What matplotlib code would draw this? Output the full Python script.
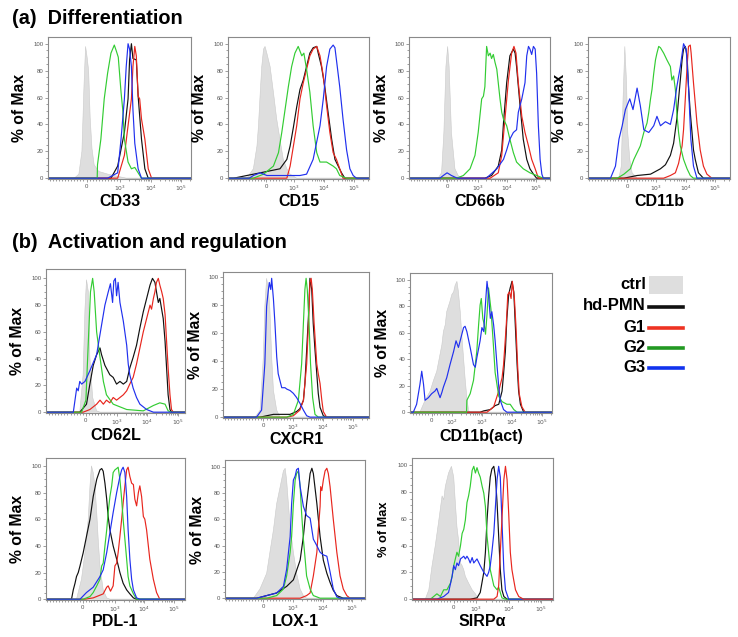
import matplotlib.pyplot as plt
from matplotlib.lines import Line2D
from matplotlib.patches import Rectangle
import numpy as np

plt.rcParams['font.family'] = ['Liberation Sans', 'DejaVu Sans']

# x: position on the biexponential display axis (10^n sits at n), y: % of max

# ---- (a) CD33
cd33_ctrl_x = [1.50, 1.65, 1.75, 1.82, 1.87, 1.92, 1.97, 2.02, 2.08, 2.15, 2.30, 2.60, 3.00, 3.20]
cd33_ctrl_y = [0, 3, 20, 70, 98, 90, 80, 45, 22, 10, 5, 3, 1, 0]
cd33_hd_x = [2.70, 2.92, 3.14, 3.26, 3.31, 3.37, 3.42, 3.53, 3.59, 3.70, 3.81, 3.92]
cd33_hd_y = [0, 9, 34, 59, 88, 100, 89, 88, 61, 29, 7, 0]
cd33_g1_x = [2.92, 3.14, 3.26, 3.37, 3.42, 3.48, 3.53, 3.59, 3.64, 3.70, 3.81, 3.92, 4.03]
cd33_g1_y = [0, 17, 39, 59, 83, 98, 91, 61, 59, 44, 29, 7, 0]
cd33_g2_x = [2.25, 2.26, 2.37, 2.48, 2.59, 2.70, 2.81, 2.87, 2.94, 3.03, 3.09, 3.14, 3.26, 3.37, 3.48, 3.59, 3.70]
cd33_g2_y = [0, 10, 29, 59, 78, 93, 99, 95, 90, 64, 50, 29, 12, 7, 8, 4, 0]
cd33_g3_x = [2.59, 2.92, 3.03, 3.14, 3.20, 3.26, 3.31, 3.37, 3.42, 3.48, 3.59, 3.70]
cd33_g3_y = [0, 4, 29, 59, 83, 100, 96, 83, 51, 26, 7, 0]

# ---- CD15
cd15_ctrl_x = [1.42, 1.64, 1.76, 1.81, 1.87, 1.92, 1.98, 2.03, 2.09, 2.20, 2.31, 2.42, 2.53, 2.64, 2.76, 2.87, 3.09]
cd15_ctrl_y = [0, 7, 24, 39, 64, 83, 96, 98, 93, 83, 64, 44, 29, 14, 7, 3, 0]
cd15_hd_x = [0.98, 1.42, 1.87, 2.31, 2.53, 2.76, 2.87, 2.98, 3.09, 3.20, 3.31, 3.42, 3.53, 3.64, 3.76, 3.81,
             3.92, 4.03, 4.14, 4.26, 4.37, 4.48, 4.59, 4.70]
cd15_hd_y = [0, 2, 4, 6, 7, 14, 24, 38, 53, 66, 73, 83, 93, 97, 98, 93, 83, 68, 49, 29, 14, 9, 4, 0]
cd15_g1_x = [2.76, 2.87, 2.98, 3.09, 3.20, 3.31, 3.42, 3.53, 3.64, 3.76, 3.87, 3.98, 4.09, 4.20, 4.31, 4.42, 4.53, 4.64]
cd15_g1_y = [0, 9, 24, 39, 59, 71, 81, 91, 96, 98, 91, 76, 54, 34, 19, 14, 7, 0]
cd15_g2_x = [1.64, 1.98, 2.31, 2.48, 2.59, 2.70, 2.81, 2.92, 3.03, 3.14, 3.26, 3.33, 3.42, 3.53, 3.64, 3.76,
             3.87, 4.09, 4.31, 4.42, 4.53, 4.76]
cd15_g2_y = [0, 3, 9, 19, 34, 51, 68, 83, 93, 98, 91, 93, 81, 64, 39, 19, 12, 12, 9, 7, 2, 0]
cd15_g3_x = [1.50, 1.64, 1.87, 2.09, 2.53, 3.20, 3.42, 3.64, 3.87, 3.98, 4.09, 4.20, 4.31, 4.37, 4.42, 4.53,
             4.64, 4.76, 4.87, 4.98, 5.09]
cd15_g3_y = [0, 2, 4, 2, 2, 2, 3, 14, 39, 59, 83, 96, 99, 97, 88, 68, 44, 21, 7, 2, 0]

# ---- CD66b
cd66b_ctrl_x = [1.64, 1.76, 1.84, 1.91, 1.97, 2.02, 2.10, 2.22, 2.33, 2.45]
cd66b_ctrl_y = [0, 4, 34, 83, 98, 83, 34, 7, 2, 0]
cd66b_hd_x = [3.25, 3.48, 3.71, 3.83, 3.89, 4.00, 4.11, 4.23, 4.29, 4.34, 4.46, 4.57, 4.69, 4.80, 4.92, 5.03]
cd66b_hd_y = [0, 2, 9, 21, 41, 71, 91, 96, 93, 83, 54, 29, 14, 7, 3, 0]
cd66b_g1_x = [3.43, 3.71, 3.83, 3.94, 4.06, 4.17, 4.25, 4.32, 4.40, 4.52, 4.63, 4.75, 4.86, 4.98, 5.09]
cd66b_g1_y = [0, 4, 17, 44, 73, 93, 98, 93, 71, 46, 34, 24, 14, 7, 0]
cd66b_g2_x = [2.28, 2.51, 2.74, 2.91, 3.02, 3.14, 3.20, 3.25, 3.31, 3.37, 3.43, 3.48, 3.54, 3.60, 3.66, 3.71,
              3.77, 3.83, 3.89, 4.00, 4.11, 4.23, 4.34, 4.57, 4.80, 5.03, 5.26]
cd66b_g2_y = [0, 2, 7, 17, 34, 59, 61, 68, 98, 91, 93, 89, 92, 86, 81, 71, 59, 49, 44, 39, 29, 19, 12, 7, 4, 2, 0]
cd66b_g3_x = [1.70, 1.82, 1.95, 2.10, 2.30, 3.30, 3.66, 3.89, 4.00, 4.11, 4.23, 4.34, 4.40, 4.52, 4.63, 4.69,
              4.75, 4.80, 4.86, 4.92, 4.98, 5.03, 5.09, 5.15, 5.21, 5.26]
cd66b_g3_y = [0, 2, 4, 2, 0, 0, 7, 14, 21, 29, 34, 36, 49, 59, 71, 91, 98, 96, 92, 98, 96, 78, 39, 14, 3, 0]

# ---- CD11b
cd11b_ctrl_x = [1.72, 1.80, 1.86, 1.92, 1.98, 2.02, 2.09, 2.17, 2.34]
cd11b_ctrl_y = [0, 9, 59, 98, 71, 34, 14, 4, 0]
cd11b_hd_x = [1.89, 2.34, 2.80, 3.14, 3.31, 3.48, 3.59, 3.70, 3.76, 3.82, 3.88, 3.93, 3.99, 4.05, 4.10, 4.16,
              4.22, 4.27, 4.33, 4.44, 4.61]
cd11b_hd_y = [0, 2, 3, 7, 10, 17, 26, 44, 59, 73, 88, 96, 98, 91, 68, 49, 34, 21, 14, 4, 0]
cd11b_g1_x = [3.25, 3.48, 3.65, 3.76, 3.88, 3.93, 3.99, 4.05, 4.10, 4.16, 4.19, 4.27, 4.39, 4.50, 4.61, 4.73, 4.90]
cd11b_g1_y = [0, 2, 4, 11, 24, 36, 59, 83, 98, 99, 93, 71, 41, 21, 9, 3, 0]
cd11b_g2_x = [1.66, 1.89, 2.11, 2.23, 2.34, 2.45, 2.57, 2.68, 2.74, 2.80, 2.85, 2.91, 2.97, 3.02, 3.08, 3.14,
              3.25, 3.36, 3.48, 3.53, 3.59, 3.65, 3.70, 3.76, 3.82, 3.93, 4.05, 4.16, 4.27]
cd11b_g2_y = [0, 3, 7, 14, 19, 24, 34, 41, 49, 59, 66, 78, 88, 93, 98, 97, 93, 88, 83, 73, 76, 66, 49, 34, 24,
              14, 7, 2, 0]
cd11b_g3_x = [1.43, 1.60, 1.72, 1.83, 1.94, 2.09, 2.20, 2.34, 2.45, 2.57, 2.74, 2.91, 3.02, 3.14, 3.31, 3.48,
              3.59, 3.70, 3.82, 3.93, 4.02, 4.10, 4.18, 4.27, 4.39]
cd11b_g3_y = [0, 9, 29, 39, 51, 59, 51, 67, 54, 36, 34, 39, 46, 39, 42, 40, 51, 68, 83, 100, 96, 68, 29, 9, 0]

# ---- (b) CD62L
cd62l_ctrl_x = [1.80, 1.91, 1.97, 2.02, 2.08, 2.13, 2.22, 2.35, 2.46]
cd62l_ctrl_y = [0, 28, 77, 99, 90, 41, 11, 1, 0]
cd62l_hd_x = [1.80, 2.02, 2.13, 2.24, 2.35, 2.46, 2.51, 2.62, 2.78, 2.89, 3.00, 3.11, 3.22, 3.33, 3.43, 3.54,
              3.65, 3.76, 3.87, 3.98, 4.09, 4.17, 4.25, 4.30, 4.36, 4.41, 4.52, 4.58, 4.63, 4.68, 4.74, 4.79]
cd62l_hd_y = [0, 6, 21, 35, 43, 48, 43, 35, 28, 26, 21, 23, 21, 23, 33, 41, 50, 63, 75, 85, 95, 100, 97, 90,
              82, 85, 70, 53, 33, 13, 2, 0]
cd62l_g1_x = [1.91, 2.13, 2.35, 2.46, 2.57, 2.67, 2.78, 2.89, 3.00, 3.11, 3.22, 3.33, 3.43, 3.54, 3.65, 3.76,
              3.87, 3.98, 4.09, 4.14, 4.20, 4.25, 4.30, 4.36, 4.41, 4.47, 4.52, 4.58, 4.63, 4.68, 4.74, 4.79, 4.85]
cd62l_g1_y = [0, 2, 6, 9, 6, 9, 7, 11, 9, 11, 13, 16, 21, 26, 36, 48, 60, 70, 80, 77, 85, 90, 97, 100, 95, 90,
              85, 73, 53, 33, 13, 2, 0]
cd62l_g2_x = [1.86, 2.00, 2.08, 2.15, 2.22, 2.27, 2.35, 2.46, 2.57, 2.67, 2.89, 3.33, 3.87, 4.20, 4.41, 4.58,
              4.68, 4.79]
cd62l_g2_y = [0, 9, 53, 90, 100, 90, 60, 41, 23, 13, 6, 2, 1, 5, 7, 6, 1, 0]
cd62l_g3_x = [1.59, 1.70, 1.75, 1.80, 1.86, 1.97, 2.13, 2.35, 2.51, 2.62, 2.73, 2.80, 2.87, 2.91, 2.96, 3.00,
              3.05, 3.11, 3.22, 3.33, 3.38, 3.43, 3.54, 3.65, 3.76, 3.98, 4.20]
cd62l_g3_y = [0, 18, 16, 23, 21, 23, 31, 43, 65, 80, 90, 96, 82, 98, 100, 87, 97, 82, 68, 50, 36, 28, 18, 11,
              6, 2, 0]

# ---- CXCR1
cxcr1_ctrl_x = [1.71, 1.88, 1.99, 2.04, 2.10, 2.16, 2.21, 2.27, 2.33, 2.44, 2.55]
cxcr1_ctrl_y = [0, 5, 43, 79, 99, 91, 77, 43, 19, 5, 0]
cxcr1_hd_x = [1.88, 2.10, 2.33, 2.66, 2.89, 3.11, 3.22, 3.34, 3.39, 3.45, 3.51, 3.56, 3.62, 3.67, 3.73, 3.79,
              3.84, 3.90, 4.01, 4.12]
cxcr1_hd_y = [0, 1, 2, 2, 2, 4, 6, 12, 24, 48, 72, 99, 91, 67, 48, 31, 17, 7, 1, 0]
cxcr1_g1_x = [2.78, 3.00, 3.22, 3.34, 3.45, 3.51, 3.56, 3.60, 3.64, 3.70, 3.79, 3.84, 3.90, 3.96, 4.01, 4.12]
cxcr1_g1_y = [0, 1, 5, 12, 38, 67, 96, 99, 91, 67, 38, 31, 24, 12, 4, 0]
cxcr1_g2_x = [2.78, 3.00, 3.17, 3.28, 3.34, 3.39, 3.43, 3.47, 3.53, 3.58, 3.65, 3.73, 3.84]
cxcr1_g2_y = [0, 2, 12, 38, 67, 91, 99, 91, 67, 38, 14, 2, 0]
cxcr1_g3_x = [1.76, 1.93, 2.04, 2.10, 2.16, 2.19, 2.24, 2.27, 2.33, 2.38, 2.44, 2.49, 2.55, 2.61, 2.72, 2.78,
              2.89, 3.00, 3.11, 3.22, 3.34, 3.45, 3.56]
cxcr1_g3_y = [0, 5, 38, 79, 91, 96, 91, 99, 84, 67, 43, 31, 26, 21, 21, 20, 19, 17, 14, 10, 5, 1, 0]

# ---- CD11b(act)
cd11bact_ctrl_x = [0.94, 1.11, 1.28, 1.39, 1.50, 1.61, 1.67, 1.72, 1.78, 1.83, 1.94, 2.00, 2.06, 2.11, 2.17,
                   2.22, 2.28, 2.33, 2.39, 2.44, 2.50, 2.56, 2.61]
cd11bact_ctrl_y = [0, 9, 16, 24, 31, 44, 51, 61, 66, 76, 84, 89, 91, 96, 99, 91, 76, 59, 41, 26, 11, 1, 0]
cd11bact_hd_x = [2.94, 3.06, 3.28, 3.44, 3.56, 3.67, 3.72, 3.78, 3.83, 3.89, 3.94, 4.00, 4.06, 4.11, 4.17,
                 4.22, 4.28, 4.39]
cd11bact_hd_y = [0, 1, 2, 5, 6, 16, 29, 46, 71, 89, 94, 99, 91, 66, 36, 16, 6, 0]
cd11bact_g1_x = [3.17, 3.39, 3.56, 3.67, 3.72, 3.81, 3.86, 3.92, 3.97, 4.01, 4.08, 4.13, 4.19, 4.24, 4.33, 4.44]
cd11bact_g1_y = [0, 4, 16, 26, 36, 66, 89, 91, 86, 99, 86, 66, 34, 14, 4, 0]
cd11bact_g2_x = [2.49, 2.50, 2.61, 2.72, 2.83, 2.89, 2.94, 2.98, 3.03, 3.08, 3.12, 3.17, 3.22, 3.30, 3.37,
                 3.44, 3.56, 3.67, 3.83, 3.94, 4.06, 4.17]
cd11bact_g2_y = [0, 9, 14, 24, 46, 66, 81, 86, 71, 66, 59, 74, 94, 78, 55, 30, 12, 8, 6, 6, 2, 0]
cd11bact_g3_x = [0.72, 0.83, 0.94, 1.00, 1.06, 1.11, 1.22, 1.33, 1.44, 1.50, 1.56, 1.61, 1.67, 1.72, 1.83,
                 1.94, 2.06, 2.14, 2.22, 2.30, 2.39, 2.44, 2.50, 2.61, 2.72, 2.78, 2.83, 2.94, 3.00, 3.06,
                 3.11, 3.17, 3.22, 3.28, 3.33, 3.39, 3.44, 3.50, 3.56, 3.61, 3.72, 3.83]
cd11bact_g3_y = [0, 6, 21, 31, 21, 9, 11, 14, 16, 18, 14, 11, 15, 19, 26, 36, 46, 54, 49, 56, 64, 65, 61, 49,
                 36, 34, 41, 54, 64, 61, 79, 99, 89, 71, 76, 66, 54, 36, 19, 9, 2, 0]

# ---- PDL-1
pdl1_ctrl_x = [1.69, 1.86, 1.98, 2.03, 2.09, 2.15, 2.20, 2.26, 2.32, 2.38, 2.43, 2.49, 2.60, 2.72, 2.83]
pdl1_ctrl_y = [0, 15, 35, 47, 60, 85, 100, 95, 85, 65, 45, 25, 7, 1, 0]
pdl1_hd_x = [1.52, 1.58, 1.64, 1.69, 1.75, 1.81, 1.92, 2.03, 2.15, 2.26, 2.38, 2.49, 2.55, 2.60, 2.66, 2.72,
             2.77, 2.83, 2.94, 3.06, 3.17, 3.28, 3.40, 3.51, 3.63, 3.74]
pdl1_hd_y = [0, 7, 12, 17, 20, 25, 35, 47, 60, 77, 90, 97, 98, 96, 87, 75, 62, 52, 40, 30, 20, 12, 7, 4, 1, 0]
pdl1_g1_x = [1.98, 2.26, 2.49, 2.60, 2.72, 2.77, 2.85, 2.94, 3.00, 3.06, 3.11, 3.17, 3.23, 3.28, 3.34, 3.40,
             3.45, 3.51, 3.57, 3.63, 3.68, 3.74, 3.80, 3.85, 3.91, 3.97, 4.02, 4.08, 4.19, 4.31, 4.42, 4.53]
pdl1_g1_y = [0, 1, 3, 4, 9, 10, 6, 10, 25, 27, 35, 47, 60, 72, 85, 97, 99, 92, 87, 86, 75, 70, 80, 85, 77, 62,
             60, 52, 30, 15, 5, 0]
pdl1_g2_x = [1.92, 2.15, 2.26, 2.38, 2.49, 2.55, 2.60, 2.66, 2.72, 2.77, 2.83, 2.89, 2.94, 3.00, 3.06, 3.11,
             3.17, 3.23, 3.28, 3.34, 3.40, 3.45, 3.51, 3.63, 3.74]
pdl1_g2_y = [0, 2, 5, 10, 15, 25, 27, 40, 52, 65, 77, 85, 95, 97, 98, 99, 90, 75, 60, 45, 30, 17, 10, 4, 0]
pdl1_g3_x = [1.81, 2.03, 2.26, 2.49, 2.60, 2.72, 2.83, 2.94, 3.06, 3.17, 3.23, 3.28, 3.34, 3.40, 3.45, 3.51,
             3.57, 3.63, 3.74, 3.85]
pdl1_g3_y = [0, 5, 9, 17, 22, 35, 50, 65, 80, 92, 97, 99, 95, 77, 52, 30, 15, 7, 1, 0]

# ---- LOX-1
lox1_ctrl_x = [1.64, 1.86, 2.09, 2.20, 2.32, 2.43, 2.55, 2.66, 2.72, 2.77, 2.83, 2.89, 3.00, 3.11, 3.23, 3.34, 3.45]
lox1_ctrl_y = [0, 7, 19, 35, 52, 72, 85, 97, 99, 90, 72, 55, 35, 19, 7, 2, 0]
lox1_hd_x = [1.75, 2.09, 2.43, 2.77, 3.00, 3.23, 3.34, 3.45, 3.57, 3.63, 3.68, 3.80, 3.91, 4.02, 4.14, 4.25,
             4.36, 4.48, 4.70]
lox1_hd_y = [0, 2, 4, 9, 14, 29, 47, 72, 95, 99, 95, 72, 47, 29, 19, 12, 6, 2, 0]
lox1_g1_x = [3.23, 3.45, 3.57, 3.68, 3.80, 3.85, 3.91, 3.93, 3.97, 4.02, 4.08, 4.14, 4.19, 4.25, 4.36, 4.48,
             4.59, 4.70, 4.82, 4.93]
lox1_g1_y = [0, 2, 4, 17, 35, 52, 70, 85, 82, 90, 97, 99, 95, 85, 60, 35, 17, 7, 2, 0]
lox1_g2_x = [2.09, 2.43, 2.66, 2.77, 2.89, 2.94, 3.00, 3.06, 3.11, 3.17, 3.23, 3.28, 3.34, 3.40, 3.45, 3.57,
             3.68, 3.80, 3.91]
lox1_g2_y = [0, 2, 7, 17, 35, 47, 72, 90, 95, 97, 85, 65, 45, 30, 17, 7, 2, 1, 0]
lox1_g3_x = [1.75, 2.09, 2.43, 2.66, 2.77, 2.89, 2.94, 3.00, 3.06, 3.11, 3.17, 3.23, 3.34, 3.45, 3.57, 3.68,
             3.80, 3.91, 4.02, 4.14, 4.25, 4.36, 4.48, 4.59]
lox1_g3_y = [0, 2, 4, 9, 22, 47, 72, 90, 93, 98, 99, 85, 70, 63, 61, 45, 40, 35, 33, 32, 20, 7, 1, 0]

# ---- SIRPa
sirpa_ctrl_x = [1.42, 1.53, 1.63, 1.73, 1.84, 1.94, 1.99, 2.04, 2.14, 2.23, 2.30, 2.35, 2.40, 2.45, 2.51, 2.56,
                2.61, 2.66, 2.76, 2.87, 2.97, 3.07]
sirpa_ctrl_y = [0, 7, 25, 40, 59, 77, 74, 84, 94, 99, 91, 72, 54, 44, 27, 25, 22, 17, 12, 7, 4, 0]
sirpa_hd_x = [2.81, 3.02, 3.12, 3.23, 3.28, 3.33, 3.38, 3.43, 3.48, 3.54, 3.59, 3.64, 3.69, 3.74, 3.79, 3.85, 3.95]
sirpa_hd_y = [0, 1, 5, 20, 35, 59, 77, 91, 97, 99, 91, 72, 47, 22, 7, 2, 0]
sirpa_g1_x = [3.54, 3.64, 3.69, 3.74, 3.79, 3.85, 3.90, 3.95, 4.00, 4.05, 4.10, 4.15, 4.21, 4.31, 4.46]
sirpa_g1_y = [0, 2, 10, 35, 59, 89, 99, 89, 64, 35, 22, 15, 7, 2, 0]
sirpa_g2_x = [1.58, 1.68, 1.78, 1.89, 1.99, 2.09, 2.20, 2.25, 2.30, 2.35, 2.40, 2.45, 2.51, 2.56, 2.61, 2.66,
              2.71, 2.76, 2.81, 2.87, 2.92, 2.97, 3.02, 3.07, 3.12, 3.18, 3.23, 3.28, 3.33, 3.38, 3.43, 3.54,
              3.64, 3.69, 3.74, 3.79, 3.90]
sirpa_g2_y = [0, 2, 4, 2, 7, 7, 12, 17, 25, 30, 35, 32, 40, 49, 52, 59, 72, 77, 84, 96, 99, 94, 98, 94, 91, 84,
              79, 69, 47, 35, 22, 10, 7, 9, 5, 1, 0]
sirpa_g3_x = [1.78, 1.99, 2.14, 2.25, 2.30, 2.35, 2.40, 2.45, 2.51, 2.61, 2.66, 2.71, 2.76, 2.81, 2.87, 2.92,
              3.02, 3.12, 3.23, 3.33, 3.38, 3.43, 3.48, 3.54, 3.59, 3.64, 3.69, 3.74, 3.79, 3.85, 3.90, 4.00]
sirpa_g3_y = [0, 2, 5, 17, 25, 22, 27, 25, 30, 32, 30, 32, 30, 27, 31, 27, 30, 25, 20, 17, 20, 25, 35, 49, 69,
              89, 99, 91, 59, 22, 7, 0]

groups = ['ctrl', 'hd-PMN', 'G1', 'G2', 'G3']

# ---------------------------------------------------------------- drawing
W, H = 738, 637
RED, GREEN, BLUE, BLACK = '#e8261e', '#33cc33', '#2030ee', '#111111'
CTRL, CTRL_EDGE = '#dedede', '#cacaca'

fig = plt.figure(figsize=(W / 100, H / 100), dpi=100)


def box(l, t, r, b):
    return [l / W, 1 - b / H, (r - l) / W, (b - t) / H]


def panel(pos, name, ctrl, hd, g1, g2, g3, xlim, zero, first_dec, top, label_dy=22,
          ylab_size=11.3, red_on_top=False):
    ax = fig.add_axes(box(*pos))
    lo, hi = xlim
    ax.fill([lo] + ctrl[0] + [hi], [0] + ctrl[1] + [0], facecolor=CTRL,
            edgecolor=CTRL_EDGE, lw=0.4, zorder=1)
    order = [(hd, BLACK), (g2, GREEN), (g3, BLUE), (g1, RED)] if red_on_top else \
            [(hd, BLACK), (g1, RED), (g2, GREEN), (g3, BLUE)]
    for (x, y), c in order:
        ax.plot([lo] + x + [hi], [0] + y + [0], color=c, lw=0.85, zorder=2)
    ax.set_xlim(lo, hi)
    ax.set_ylim(-0.6, top)

    decs = list(range(first_dec, 6))
    ax.set_xticks([zero] + decs, ['0'] + [rf'$10^{{{n}}}$' for n in decs])
    minor = [n + np.log10(k) for n in decs for k in range(2, 10) if n + np.log10(k) < hi]
    t = first_dec - 0.1
    while t > lo:
        if abs(t - zero) > 0.04:
            minor.append(t)
        t -= 0.1
    ax.set_xticks(minor, minor=True)
    ax.set_yticks([0, 20, 40, 60, 80, 100])
    ax.set_yticks(np.arange(0, 101, 5), minor=True)
    ax.tick_params(which='both', direction='out', width=0.5, color='#777777',
                   labelsize=4.3, labelcolor='#555555', pad=1.0)
    ax.tick_params(which='major', length=2.4)
    ax.tick_params(which='minor', length=1.2)
    for s in ax.spines.values():
        s.set_color('#8a8a8a')
        s.set_linewidth(0.8)

    l, t_, r, b = pos
    fig.text((l + r) / 2 / W, 1 - (b + label_dy) / H, name, fontsize=11.5,
             fontweight='bold', ha='center', va='center')
    fig.text((l - 28) / W, 1 - (t_ + b) / 2 / H, '% of Max', fontsize=ylab_size,
             fontweight='bold', rotation=90, ha='center', va='center')
    return ax


panel((48, 37, 191, 179), 'CD33', (cd33_ctrl_x, cd33_ctrl_y), (cd33_hd_x, cd33_hd_y),
      (cd33_g1_x, cd33_g1_y), (cd33_g2_x, cd33_g2_y), (cd33_g3_x, cd33_g3_y),
      (0.64, 5.32), 1.9, 3, 105)
panel((228, 37, 369, 179), 'CD15', (cd15_ctrl_x, cd15_ctrl_y), (cd15_hd_x, cd15_hd_y),
      (cd15_g1_x, cd15_g1_y), (cd15_g2_x, cd15_g2_y), (cd15_g3_x, cd15_g3_y),
      (0.79, 5.51), 2.06, 3, 105)
panel((409, 37, 550, 179), 'CD66b', (cd66b_ctrl_x, cd66b_ctrl_y), (cd66b_hd_x, cd66b_hd_y),
      (cd66b_g1_x, cd66b_g1_y), (cd66b_g2_x, cd66b_g2_y), (cd66b_g3_x, cd66b_g3_y),
      (0.64, 5.49), 1.95, 3, 105)
panel((588, 37, 730, 179), 'CD11b', (cd11b_ctrl_x, cd11b_ctrl_y), (cd11b_hd_x, cd11b_hd_y),
      (cd11b_g1_x, cd11b_g1_y), (cd11b_g2_x, cd11b_g2_y), (cd11b_g3_x, cd11b_g3_y),
      (0.66, 5.52), 2.0, 3, 105)

panel((46, 269, 185, 413), 'CD62L', (cd62l_ctrl_x, cd62l_ctrl_y), (cd62l_hd_x, cd62l_hd_y),
      (cd62l_g1_x, cd62l_g1_y), (cd62l_g2_x, cd62l_g2_y), (cd62l_g3_x, cd62l_g3_y),
      (0.70, 5.23), 2.0, 3, 107, label_dy=23)
panel((223, 272, 369, 418), 'CXCR1', (cxcr1_ctrl_x, cxcr1_ctrl_y), (cxcr1_hd_x, cxcr1_hd_y),
      (cxcr1_g1_x, cxcr1_g1_y), (cxcr1_g2_x, cxcr1_g2_y), (cxcr1_g3_x, cxcr1_g3_y),
      (0.63, 5.55), 1.99, 3, 103.5, label_dy=21)
panel((410, 273, 552, 413), 'CD11b(act)', (cd11bact_ctrl_x, cd11bact_ctrl_y),
      (cd11bact_hd_x, cd11bact_hd_y), (cd11bact_g1_x, cd11bact_g1_y),
      (cd11bact_g2_x, cd11bact_g2_y), (cd11bact_g3_x, cd11bact_g3_y),
      (0.61, 5.33), 1.33, 2, 105.3, label_dy=23)

panel((46, 458, 185, 600), 'PDL-1', (pdl1_ctrl_x, pdl1_ctrl_y), (pdl1_hd_x, pdl1_hd_y),
      (pdl1_g1_x, pdl1_g1_y), (pdl1_g2_x, pdl1_g2_y), (pdl1_g3_x, pdl1_g3_y),
      (0.65, 5.39), 1.9, 3, 105.9)
panel((225, 460, 365, 599), 'LOX-1', (lox1_ctrl_x, lox1_ctrl_y), (lox1_hd_x, lox1_hd_y),
      (lox1_g1_x, lox1_g1_y), (lox1_g2_x, lox1_g2_y), (lox1_g3_x, lox1_g3_y),
      (0.67, 5.44), 1.98, 3, 105.3)
panel((412, 458, 553, 600), 'SIRP\u03b1', (sirpa_ctrl_x, sirpa_ctrl_y),
      (sirpa_hd_x, sirpa_hd_y), (sirpa_g1_x, sirpa_g1_y), (sirpa_g2_x, sirpa_g2_y),
      (sirpa_g3_x, sirpa_g3_y), (1.01, 5.37), 2.3, 3, 105.2, ylab_size=9.2,
      red_on_top=True)

# section titles
fig.text(12 / W, 1 - 18 / H, '(a)  Differentiation', fontsize=14.3, fontweight='bold', va='center')
fig.text(12 / W, 1 - 242 / H, '(b)  Activation and regulation', fontsize=14.3,
         fontweight='bold', va='center')

# legend (labels to the left of their swatches)
leg_rows = [285, 306, 327, 347, 367]
leg_colors = [None, BLACK, '#ee3322', '#229922', '#1133ee']
for name, yy, c in zip(groups, leg_rows, leg_colors):
    fig.text(646 / W, 1 - yy / H, name, fontsize=12, fontweight='bold', ha='right', va='center')
    if c is None:
        fig.add_artist(Rectangle((649 / W, 1 - 294 / H), 34 / W, 18 / H,
                                 transform=fig.transFigure, facecolor=CTRL, edgecolor='none'))
    else:
        fig.add_artist(Line2D([649 / W, 683 / W], [1 - (yy + 1) / H] * 2,
                              transform=fig.transFigure, color=c, lw=2.6))

fig.savefig('out.png', dpi=100)
